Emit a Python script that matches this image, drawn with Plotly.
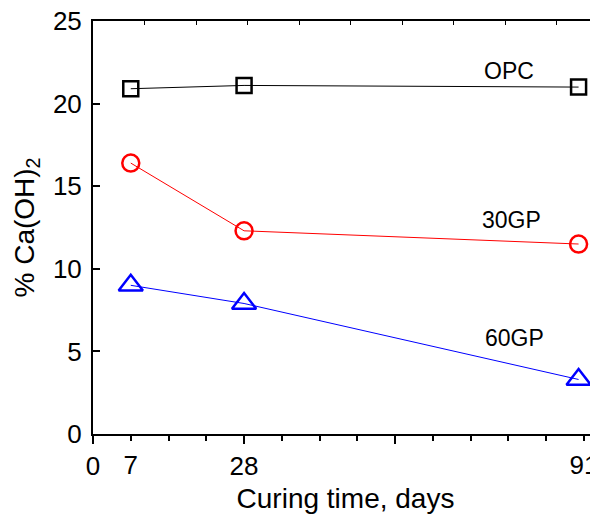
import plotly.graph_objects as go

# Data
days = [7, 28, 90]
opc = [20.9, 21.1, 21.0]
gp30 = [16.4, 12.3, 11.5]
gp60 = [9.0, 7.9, 3.3]

series_names = ["OPC", "30GP", "60GP"]
label_x = [77.1, 77.6, 78.2]
label_y = [22.0, 12.95, 5.8]

x_major_vals = [0, 28, 56]
x_major_text = ["0", "28", ""]
x_minor_vals = [7, 14, 21, 35, 42, 49, 63, 70, 77, 84, 91]
x_extra_vals = [7, 91]
x_extra_text = ["7", "91"]

FONT = "Arial, Liberation Sans, sans-serif"
XR = [0, 93.6]

fig = go.Figure()
fig.add_trace(go.Scatter(x=days, y=opc, mode="lines+markers", name="OPC",
                         line=dict(color="black", width=1),
                         marker=dict(symbol="square-open", size=15, color="black",
                                     line=dict(width=2.5, color="black"))))
fig.add_trace(go.Scatter(x=days, y=gp30, mode="lines+markers", name="30GP",
                         line=dict(color="#ff0000", width=1),
                         marker=dict(symbol="circle-open", size=17, color="#ff0000",
                                     line=dict(width=2.5, color="#ff0000"))))
fig.add_trace(go.Scatter(x=days, y=gp60, mode="lines+markers", name="60GP",
                         line=dict(color="#0000ff", width=1),
                         marker=dict(symbol="triangle-up-open", size=21, color="#0000ff",
                                     line=dict(width=2.5, color="#0000ff"))))
# empty helper traces so the overlay axes are drawn
fig.add_trace(go.Scatter(x=[], y=[], xaxis="x3", yaxis="y", showlegend=False,
                         hoverinfo="skip"))
fig.add_trace(go.Scatter(x=[], y=[], xaxis="x2", yaxis="y", showlegend=False,
                         hoverinfo="skip"))

for name, lx, ly in zip(series_names, label_x, label_y):
    fig.add_annotation(x=lx, y=ly, xref="x", yref="y", text=name, showarrow=False,
                       font=dict(family=FONT, size=23, color="black"),
                       xanchor="center", yanchor="middle")

fig.update_layout(
    width=590, height=513,
    margin=dict(l=85, r=0, t=13, b=87, autoexpand=False),
    paper_bgcolor="white", plot_bgcolor="white",
    showlegend=False,
    font=dict(family=FONT, color="black"),
    xaxis=dict(
        range=XR, showgrid=False, zeroline=False, automargin=False,
        showline=True, linecolor="black", linewidth=2,
        tickmode="array", tickvals=x_major_vals, ticktext=x_major_text,
        ticks="outside", ticklen=8, tickwidth=1.5, tickcolor="black",
        tickfont=dict(size=26, family=FONT), ticklabelstandoff=0,
        ticklabeloverflow="allow",
        minor=dict(tickmode="array", tickvals=x_minor_vals, ticks="outside",
                   ticklen=5, tickwidth=1.5, tickcolor="black", showgrid=False),
        title=dict(text="Curing time, days", font=dict(size=28, family=FONT), standoff=8),
    ),
    xaxis2=dict(
        overlaying="x", side="top", anchor="y", automargin=False,
        range=[0, 505 / 51.5], dtick=1, tick0=0,
        showgrid=False, zeroline=False, showticklabels=False,
        showline=True, linecolor="black", linewidth=2,
        ticks="inside", ticklen=4, tickwidth=1, tickcolor="black",
    ),
    xaxis3=dict(
        overlaying="x", side="bottom", anchor="y", automargin=False,
        range=XR, showgrid=False, zeroline=False, showline=False,
        tickmode="array", tickvals=x_extra_vals, ticktext=x_extra_text,
        ticks="outside", ticklen=8, tickcolor="rgba(0,0,0,0)",
        tickfont=dict(size=26, family=FONT), ticklabelstandoff=0,
        ticklabeloverflow="allow",
    ),
    yaxis=dict(
        range=[0, 25], dtick=5, showgrid=False, zeroline=False, automargin=False,
        showline=True, linecolor="black", linewidth=2,
        ticks="inside", ticklen=7, tickwidth=1.5, tickcolor="black",
        tickfont=dict(size=26, family=FONT), ticklabelstandoff=4,
        ticklabeloverflow="allow",
        title=dict(text="% Ca(OH)<sub>2</sub>", font=dict(size=28, family=FONT), standoff=10),
    ),
)

fig.write_html("out.html")
